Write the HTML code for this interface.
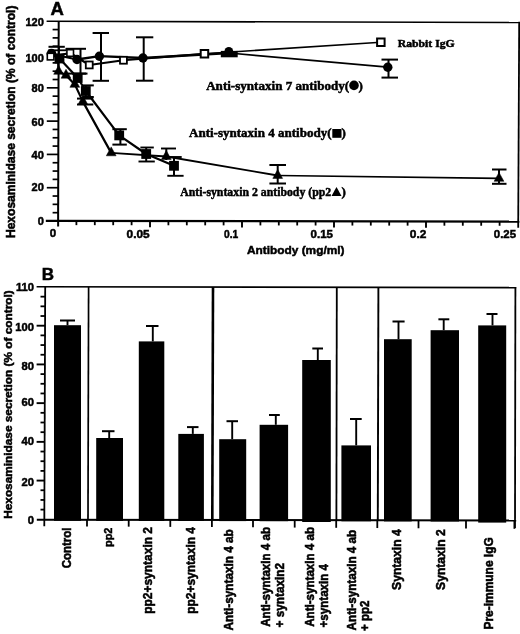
<!DOCTYPE html>
<html><head><meta charset="utf-8"><title>Figure</title>
<style>
html,body{margin:0;padding:0;background:#fff;}
body{width:520px;height:634px;overflow:hidden;font-family:"Liberation Sans",sans-serif;}
svg{display:block;}
text{fill:#000;}
</style></head><body>
<svg width="520" height="634" viewBox="0 0 520 634" style="filter:grayscale(1) blur(0.35px)">
<rect x="0" y="0" width="520" height="634" fill="#fff"/>
<line x1="46.60" y1="21.30" x2="519.60" y2="22.50" stroke="#000" stroke-width="1.6" />
<line x1="519.20" y1="21.80" x2="518.20" y2="227.80" stroke="#000" stroke-width="1.8" />
<line x1="45.80" y1="220.90" x2="519.40" y2="221.60" stroke="#000" stroke-width="2.2" />
<line x1="58.70" y1="21.50" x2="58.10" y2="226.60" stroke="#000" stroke-width="2.0" />
<line x1="52.60" y1="212.68" x2="58.70" y2="212.68" stroke="#000" stroke-width="1.7" />
<line x1="52.60" y1="204.35" x2="58.70" y2="204.35" stroke="#000" stroke-width="1.7" />
<line x1="52.60" y1="196.03" x2="58.70" y2="196.03" stroke="#000" stroke-width="1.7" />
<line x1="46.80" y1="187.71" x2="58.70" y2="187.71" stroke="#000" stroke-width="1.7" />
<line x1="52.60" y1="179.38" x2="58.70" y2="179.38" stroke="#000" stroke-width="1.7" />
<line x1="52.60" y1="171.06" x2="58.70" y2="171.06" stroke="#000" stroke-width="1.7" />
<line x1="52.60" y1="162.74" x2="58.70" y2="162.74" stroke="#000" stroke-width="1.7" />
<line x1="46.80" y1="154.42" x2="58.70" y2="154.42" stroke="#000" stroke-width="1.7" />
<line x1="52.60" y1="146.09" x2="58.70" y2="146.09" stroke="#000" stroke-width="1.7" />
<line x1="52.60" y1="137.77" x2="58.70" y2="137.77" stroke="#000" stroke-width="1.7" />
<line x1="52.60" y1="129.45" x2="58.70" y2="129.45" stroke="#000" stroke-width="1.7" />
<line x1="46.80" y1="121.12" x2="58.70" y2="121.12" stroke="#000" stroke-width="1.7" />
<line x1="52.60" y1="112.80" x2="58.70" y2="112.80" stroke="#000" stroke-width="1.7" />
<line x1="52.60" y1="104.48" x2="58.70" y2="104.48" stroke="#000" stroke-width="1.7" />
<line x1="52.60" y1="96.16" x2="58.70" y2="96.16" stroke="#000" stroke-width="1.7" />
<line x1="46.80" y1="87.83" x2="58.70" y2="87.83" stroke="#000" stroke-width="1.7" />
<line x1="52.60" y1="79.51" x2="58.70" y2="79.51" stroke="#000" stroke-width="1.7" />
<line x1="52.60" y1="71.19" x2="58.70" y2="71.19" stroke="#000" stroke-width="1.7" />
<line x1="52.60" y1="62.86" x2="58.70" y2="62.86" stroke="#000" stroke-width="1.7" />
<line x1="46.80" y1="54.54" x2="58.70" y2="54.54" stroke="#000" stroke-width="1.7" />
<line x1="52.60" y1="46.22" x2="58.70" y2="46.22" stroke="#000" stroke-width="1.7" />
<line x1="52.60" y1="37.89" x2="58.70" y2="37.89" stroke="#000" stroke-width="1.7" />
<line x1="52.60" y1="29.57" x2="58.70" y2="29.57" stroke="#000" stroke-width="1.7" />
<line x1="76.40" y1="220.94" x2="76.40" y2="225.14" stroke="#000" stroke-width="1.8" />
<line x1="94.80" y1="220.97" x2="94.80" y2="225.17" stroke="#000" stroke-width="1.8" />
<line x1="113.20" y1="221.00" x2="113.20" y2="225.20" stroke="#000" stroke-width="1.8" />
<line x1="131.60" y1="221.03" x2="131.60" y2="225.23" stroke="#000" stroke-width="1.8" />
<line x1="150.00" y1="221.05" x2="150.00" y2="227.25" stroke="#000" stroke-width="1.9" />
<line x1="168.40" y1="221.08" x2="168.40" y2="225.28" stroke="#000" stroke-width="1.8" />
<line x1="186.80" y1="221.11" x2="186.80" y2="225.31" stroke="#000" stroke-width="1.8" />
<line x1="205.20" y1="221.14" x2="205.20" y2="225.34" stroke="#000" stroke-width="1.8" />
<line x1="223.60" y1="221.16" x2="223.60" y2="225.36" stroke="#000" stroke-width="1.8" />
<line x1="242.00" y1="221.19" x2="242.00" y2="227.39" stroke="#000" stroke-width="1.9" />
<line x1="260.40" y1="221.22" x2="260.40" y2="225.42" stroke="#000" stroke-width="1.8" />
<line x1="278.80" y1="221.24" x2="278.80" y2="225.44" stroke="#000" stroke-width="1.8" />
<line x1="297.20" y1="221.27" x2="297.20" y2="225.47" stroke="#000" stroke-width="1.8" />
<line x1="315.60" y1="221.30" x2="315.60" y2="225.50" stroke="#000" stroke-width="1.8" />
<line x1="334.00" y1="221.33" x2="334.00" y2="227.53" stroke="#000" stroke-width="1.9" />
<line x1="352.40" y1="221.35" x2="352.40" y2="225.55" stroke="#000" stroke-width="1.8" />
<line x1="370.80" y1="221.38" x2="370.80" y2="225.58" stroke="#000" stroke-width="1.8" />
<line x1="389.20" y1="221.41" x2="389.20" y2="225.61" stroke="#000" stroke-width="1.8" />
<line x1="407.60" y1="221.44" x2="407.60" y2="225.64" stroke="#000" stroke-width="1.8" />
<line x1="426.00" y1="221.46" x2="426.00" y2="227.66" stroke="#000" stroke-width="1.9" />
<line x1="444.40" y1="221.49" x2="444.40" y2="225.69" stroke="#000" stroke-width="1.8" />
<line x1="462.80" y1="221.52" x2="462.80" y2="225.72" stroke="#000" stroke-width="1.8" />
<line x1="481.20" y1="221.54" x2="481.20" y2="225.74" stroke="#000" stroke-width="1.8" />
<line x1="499.60" y1="221.57" x2="499.60" y2="225.77" stroke="#000" stroke-width="1.8" />
<text x="43.80" y="25.50" font-family="Liberation Sans" font-size="11" font-weight="bold" text-anchor="end"  stroke="#000" stroke-width="0.5">120</text>
<text x="43.80" y="61.60" font-family="Liberation Sans" font-size="11" font-weight="bold" text-anchor="end"  stroke="#000" stroke-width="0.5">100</text>
<text x="43.80" y="92.10" font-family="Liberation Sans" font-size="11" font-weight="bold" text-anchor="end"  stroke="#000" stroke-width="0.5">80</text>
<text x="43.80" y="125.50" font-family="Liberation Sans" font-size="11" font-weight="bold" text-anchor="end"  stroke="#000" stroke-width="0.5">60</text>
<text x="43.80" y="158.80" font-family="Liberation Sans" font-size="11" font-weight="bold" text-anchor="end"  stroke="#000" stroke-width="0.5">40</text>
<text x="43.80" y="191.30" font-family="Liberation Sans" font-size="11" font-weight="bold" text-anchor="end"  stroke="#000" stroke-width="0.5">20</text>
<text x="43.80" y="224.50" font-family="Liberation Sans" font-size="11" font-weight="bold" text-anchor="end"  stroke="#000" stroke-width="0.5">0</text>
<text x="49.80" y="237.40" font-family="Liberation Sans" font-size="11.5" font-weight="bold" text-anchor="start"  stroke="#000" stroke-width="0.5">0</text>
<text x="126.60" y="237.60" font-family="Liberation Sans" font-size="11.5" font-weight="bold" text-anchor="start" textLength="23.0" lengthAdjust="spacingAndGlyphs"  stroke="#000" stroke-width="0.5">0.05</text>
<text x="224.10" y="237.80" font-family="Liberation Sans" font-size="11.5" font-weight="bold" text-anchor="start" textLength="14.2" lengthAdjust="spacingAndGlyphs"  stroke="#000" stroke-width="0.5">0.1</text>
<text x="310.60" y="237.60" font-family="Liberation Sans" font-size="11.5" font-weight="bold" text-anchor="start" textLength="22.4" lengthAdjust="spacingAndGlyphs"  stroke="#000" stroke-width="0.5">0.15</text>
<text x="409.80" y="238.10" font-family="Liberation Sans" font-size="11.5" font-weight="bold" text-anchor="start" textLength="16.6" lengthAdjust="spacingAndGlyphs"  stroke="#000" stroke-width="0.5">0.2</text>
<text x="493.80" y="238.40" font-family="Liberation Sans" font-size="11.5" font-weight="bold" text-anchor="start" textLength="22.2" lengthAdjust="spacingAndGlyphs"  stroke="#000" stroke-width="0.5">0.25</text>
<text x="247.00" y="254.30" font-family="Liberation Sans" font-size="11.5" font-weight="bold" text-anchor="start" textLength="97.5" lengthAdjust="spacingAndGlyphs"  stroke="#000" stroke-width="0.5">Antibody (mg/ml)</text>
<text x="50.60" y="14.70" font-family="Liberation Sans" font-size="18.5" font-weight="bold" text-anchor="start"  stroke="#000" stroke-width="0.5">A</text>
<text x="0" y="0" transform="translate(15.20,238.00) rotate(-90) scale(1,1.08)" font-family="Liberation Sans" font-size="12" font-weight="bold" text-anchor="start" textLength="232.4" lengthAdjust="spacingAndGlyphs"  stroke="#000" stroke-width="0.5">Hexosaminidase secretion (% of control)</text>
<polyline fill="none" stroke="#000" stroke-width="2.1" stroke-linejoin="round" points="50.6,56.6 70.2,53.0 89.3,65.0 123.4,60.2 204.4,53.7"/>
<polyline fill="none" stroke="#000" stroke-width="1.6" stroke-linejoin="round" points="204.4,53.7 380.8,42.3"/>
<polyline fill="none" stroke="#000" stroke-width="2.3" stroke-linejoin="round" points="56.0,55.0 77.0,59.5 99.4,56.2 143.0,58.0 229.2,53.0"/>
<polyline fill="none" stroke="#000" stroke-width="1.7" stroke-linejoin="round" points="229.2,53.0 387.8,67.2"/>
<polyline fill="none" stroke="#000" stroke-width="2.2" stroke-linejoin="round" points="59.5,58.5 77.7,78.0 85.8,91.0 119.2,135.4 146.2,154.0 174.0,165.8"/>
<polyline fill="none" stroke="#000" stroke-width="2.2" stroke-linejoin="round" points="58.0,58.0 58.6,71.4 66.0,75.3 74.8,84.4 82.9,101.6 111.2,152.9"/>
<polyline fill="none" stroke="#000" stroke-width="1.9" stroke-linejoin="round" points="111.2,152.9 166.3,156.5 277.7,175.5"/>
<polyline fill="none" stroke="#000" stroke-width="1.7" stroke-linejoin="round" points="277.7,175.5 499.0,178.4"/>
<line x1="48.50" y1="46.80" x2="64.80" y2="46.80" stroke="#000" stroke-width="2.0" />
<line x1="48.20" y1="50.30" x2="66.40" y2="50.30" stroke="#000" stroke-width="1.8" />
<line x1="58.90" y1="46.80" x2="58.90" y2="56.00" stroke="#000" stroke-width="1.9" />
<line x1="80.50" y1="48.80" x2="80.50" y2="73.60" stroke="#000" stroke-width="2.0" />
<line x1="65.50" y1="48.80" x2="86.00" y2="48.80" stroke="#000" stroke-width="2.0" />
<line x1="65.50" y1="73.60" x2="86.00" y2="73.60" stroke="#000" stroke-width="2.0" />
<line x1="72.00" y1="73.60" x2="87.50" y2="73.60" stroke="#000" stroke-width="2.0" />
<line x1="101.00" y1="33.00" x2="101.00" y2="80.80" stroke="#000" stroke-width="2.0" />
<line x1="92.60" y1="33.00" x2="109.00" y2="33.00" stroke="#000" stroke-width="2.0" />
<line x1="92.60" y1="80.80" x2="109.00" y2="80.80" stroke="#000" stroke-width="2.0" />
<line x1="143.70" y1="37.30" x2="143.70" y2="80.70" stroke="#000" stroke-width="2.0" />
<line x1="136.00" y1="37.30" x2="153.30" y2="37.30" stroke="#000" stroke-width="2.0" />
<line x1="136.00" y1="80.70" x2="153.30" y2="80.70" stroke="#000" stroke-width="2.0" />
<rect x="220.8" y="50.9" width="16.9" height="6.4" fill="#000"/>
<line x1="388.50" y1="59.60" x2="388.50" y2="77.60" stroke="#000" stroke-width="2.0" />
<line x1="381.50" y1="59.60" x2="398.00" y2="59.60" stroke="#000" stroke-width="2.0" />
<line x1="381.50" y1="77.60" x2="398.00" y2="77.60" stroke="#000" stroke-width="2.0" />
<line x1="85.80" y1="85.40" x2="85.80" y2="97.00" stroke="#000" stroke-width="2.0" />
<line x1="82.30" y1="85.40" x2="93.80" y2="85.40" stroke="#000" stroke-width="2.0" />
<line x1="82.30" y1="97.00" x2="93.80" y2="97.00" stroke="#000" stroke-width="2.0" />
<line x1="120.40" y1="129.20" x2="120.40" y2="144.60" stroke="#000" stroke-width="2.0" />
<line x1="112.40" y1="129.20" x2="126.80" y2="129.20" stroke="#000" stroke-width="2.0" />
<line x1="112.40" y1="144.60" x2="126.80" y2="144.60" stroke="#000" stroke-width="2.0" />
<line x1="146.20" y1="147.50" x2="146.20" y2="161.50" stroke="#000" stroke-width="2.0" />
<line x1="140.40" y1="147.50" x2="153.80" y2="147.50" stroke="#000" stroke-width="1.9" />
<line x1="138.50" y1="161.50" x2="154.80" y2="161.50" stroke="#000" stroke-width="1.9" />
<line x1="174.00" y1="157.00" x2="174.00" y2="175.80" stroke="#000" stroke-width="2.0" />
<line x1="166.00" y1="157.00" x2="181.70" y2="157.00" stroke="#000" stroke-width="1.9" />
<line x1="167.30" y1="175.80" x2="183.60" y2="175.80" stroke="#000" stroke-width="1.9" />
<line x1="82.90" y1="98.60" x2="82.90" y2="104.50" stroke="#000" stroke-width="2.0" />
<line x1="77.00" y1="98.60" x2="93.30" y2="98.60" stroke="#000" stroke-width="2.0" />
<line x1="77.00" y1="104.50" x2="93.30" y2="104.50" stroke="#000" stroke-width="2.0" />
<line x1="166.30" y1="148.50" x2="166.30" y2="160.00" stroke="#000" stroke-width="2.0" />
<line x1="161.00" y1="148.50" x2="176.00" y2="148.50" stroke="#000" stroke-width="1.9" />
<line x1="277.70" y1="165.00" x2="277.70" y2="183.50" stroke="#000" stroke-width="2.0" />
<line x1="269.40" y1="165.00" x2="286.00" y2="165.00" stroke="#000" stroke-width="2.0" />
<line x1="269.40" y1="183.50" x2="286.00" y2="183.50" stroke="#000" stroke-width="2.0" />
<line x1="499.00" y1="169.50" x2="499.00" y2="183.80" stroke="#000" stroke-width="2.0" />
<line x1="492.00" y1="169.50" x2="506.50" y2="169.50" stroke="#000" stroke-width="2.0" />
<line x1="492.00" y1="183.80" x2="506.50" y2="183.80" stroke="#000" stroke-width="2.0" />
<circle cx="51.5" cy="53.6" r="4.8" fill="#000"/>
<circle cx="77" cy="59.5" r="4.7" fill="#000"/>
<circle cx="99.4" cy="56.2" r="4.7" fill="#000"/>
<circle cx="143" cy="58.0" r="4.7" fill="#000"/>
<circle cx="228.8" cy="51.4" r="4.4" fill="#000"/>
<circle cx="387.8" cy="67.2" r="4.7" fill="#000"/>
<polygon points="53.7,74.3 63.5,74.3 58.6,65.4" fill="#000" stroke="#000" stroke-width="0.5" stroke-linejoin="round"/>
<polygon points="61.1,78.2 70.9,78.2 66.0,69.3" fill="#000" stroke="#000" stroke-width="0.5" stroke-linejoin="round"/>
<polygon points="69.9,87.3 79.7,87.3 74.8,78.4" fill="#000" stroke="#000" stroke-width="0.5" stroke-linejoin="round"/>
<polygon points="78.0,104.5 87.8,104.5 82.9,95.6" fill="#000" stroke="#000" stroke-width="0.5" stroke-linejoin="round"/>
<polygon points="106.3,155.8 116.1,155.8 111.2,146.9" fill="#000" stroke="#000" stroke-width="0.5" stroke-linejoin="round"/>
<polygon points="161.4,159.4 171.2,159.4 166.3,150.5" fill="#000" stroke="#000" stroke-width="0.5" stroke-linejoin="round"/>
<polygon points="272.8,178.4 282.6,178.4 277.7,169.5" fill="#000" stroke="#000" stroke-width="0.5" stroke-linejoin="round"/>
<polygon points="494.1,181.3 503.9,181.3 499.0,172.4" fill="#000" stroke="#000" stroke-width="0.5" stroke-linejoin="round"/>
<rect x="54.6" y="53.6" width="9.8" height="9.8" fill="#000"/>
<rect x="72.8" y="73.1" width="9.8" height="9.8" fill="#000"/>
<rect x="80.9" y="86.1" width="9.8" height="9.8" fill="#000"/>
<rect x="114.3" y="130.5" width="9.8" height="9.8" fill="#000"/>
<rect x="141.3" y="149.1" width="9.8" height="9.8" fill="#000"/>
<rect x="169.1" y="160.9" width="9.8" height="9.8" fill="#000"/>
<rect x="47.3" y="53.3" width="6.6" height="6.6" fill="#fff" stroke="#000" stroke-width="1.6"/>
<rect x="66.9" y="49.7" width="6.6" height="6.6" fill="#fff" stroke="#000" stroke-width="1.6"/>
<rect x="85.8" y="61.5" width="6.9" height="6.9" fill="#fff" stroke="#000" stroke-width="1.8"/>
<rect x="120.0" y="56.8" width="6.9" height="6.9" fill="#fff" stroke="#000" stroke-width="1.8"/>
<rect x="200.7" y="50.0" width="7.5" height="7.5" fill="#fff" stroke="#000" stroke-width="2.0"/>
<rect x="377.1" y="38.5" width="7.5" height="7.5" fill="#fff" stroke="#000" stroke-width="2.0"/>
<text x="397.70" y="46.50" font-family="Liberation Serif" font-size="11.4" font-weight="bold" text-anchor="start" textLength="57.0" lengthAdjust="spacingAndGlyphs"  stroke="#000" stroke-width="0.5">Rabbit IgG</text>
<text x="206.20" y="89.50" font-family="Liberation Serif" font-size="13" font-weight="bold" text-anchor="start" textLength="143.0" lengthAdjust="spacingAndGlyphs"  stroke="#000" stroke-width="0.5">Anti-syntaxin 7 antibody(</text>
<circle cx="354" cy="85.4" r="4.8" fill="#000"/>
<text x="358.60" y="89.50" font-family="Liberation Serif" font-size="13" font-weight="bold" text-anchor="start"  stroke="#000" stroke-width="0.5">)</text>
<text x="189.00" y="137.00" font-family="Liberation Serif" font-size="13" font-weight="bold" text-anchor="start" textLength="142.5" lengthAdjust="spacingAndGlyphs"  stroke="#000" stroke-width="0.5">Anti-syntaxin 4 antibody(</text>
<rect x="332.3" y="129" width="9.2" height="8.8" fill="#000"/>
<text x="341.60" y="137.00" font-family="Liberation Serif" font-size="13" font-weight="bold" text-anchor="start"  stroke="#000" stroke-width="0.5">)</text>
<text x="180.20" y="196.20" font-family="Liberation Serif" font-size="13" font-weight="bold" text-anchor="start" textLength="151.0" lengthAdjust="spacingAndGlyphs"  stroke="#000" stroke-width="0.5">Anti-syntaxin 2 antibody (pp2</text>
<polygon points="331.5,196 341.5,196 336.5,187" fill="#000"/>
<text x="341.60" y="196.20" font-family="Liberation Serif" font-size="13" font-weight="bold" text-anchor="start"  stroke="#000" stroke-width="0.5">)</text>
<line x1="36.60" y1="286.80" x2="516.20" y2="287.60" stroke="#000" stroke-width="1.6" />
<line x1="515.40" y1="287.00" x2="515.00" y2="528.00" stroke="#000" stroke-width="1.8" />
<line x1="36.80" y1="519.70" x2="516.20" y2="520.50" stroke="#000" stroke-width="2.1" />
<line x1="45.20" y1="287.00" x2="44.30" y2="526.30" stroke="#000" stroke-width="1.8" />
<line x1="40.50" y1="509.62" x2="44.34" y2="509.62" stroke="#000" stroke-width="1.8" />
<line x1="40.50" y1="499.94" x2="44.38" y2="499.94" stroke="#000" stroke-width="1.8" />
<line x1="40.50" y1="490.26" x2="44.41" y2="490.26" stroke="#000" stroke-width="1.8" />
<line x1="36.60" y1="480.58" x2="44.45" y2="480.58" stroke="#000" stroke-width="1.9" />
<line x1="40.50" y1="470.90" x2="44.49" y2="470.90" stroke="#000" stroke-width="1.8" />
<line x1="40.50" y1="461.22" x2="44.52" y2="461.22" stroke="#000" stroke-width="1.8" />
<line x1="40.50" y1="451.54" x2="44.56" y2="451.54" stroke="#000" stroke-width="1.8" />
<line x1="36.60" y1="441.86" x2="44.60" y2="441.86" stroke="#000" stroke-width="1.9" />
<line x1="40.50" y1="432.18" x2="44.64" y2="432.18" stroke="#000" stroke-width="1.8" />
<line x1="40.50" y1="422.50" x2="44.67" y2="422.50" stroke="#000" stroke-width="1.8" />
<line x1="40.50" y1="412.82" x2="44.71" y2="412.82" stroke="#000" stroke-width="1.8" />
<line x1="36.60" y1="403.14" x2="44.75" y2="403.14" stroke="#000" stroke-width="1.9" />
<line x1="40.50" y1="393.46" x2="44.79" y2="393.46" stroke="#000" stroke-width="1.8" />
<line x1="40.50" y1="383.78" x2="44.83" y2="383.78" stroke="#000" stroke-width="1.8" />
<line x1="40.50" y1="374.10" x2="44.86" y2="374.10" stroke="#000" stroke-width="1.8" />
<line x1="36.60" y1="364.42" x2="44.90" y2="364.42" stroke="#000" stroke-width="1.9" />
<line x1="40.50" y1="354.74" x2="44.94" y2="354.74" stroke="#000" stroke-width="1.8" />
<line x1="40.50" y1="345.06" x2="44.98" y2="345.06" stroke="#000" stroke-width="1.8" />
<line x1="40.50" y1="335.38" x2="45.01" y2="335.38" stroke="#000" stroke-width="1.8" />
<line x1="36.60" y1="325.70" x2="45.05" y2="325.70" stroke="#000" stroke-width="1.9" />
<line x1="40.50" y1="316.02" x2="45.09" y2="316.02" stroke="#000" stroke-width="1.8" />
<line x1="40.50" y1="306.34" x2="45.12" y2="306.34" stroke="#000" stroke-width="1.8" />
<line x1="40.50" y1="296.66" x2="45.16" y2="296.66" stroke="#000" stroke-width="1.8" />
<text x="34.00" y="290.60" font-family="Liberation Sans" font-size="11.2" font-weight="bold" text-anchor="end"  stroke="#000" stroke-width="0.5">110</text>
<text x="34.00" y="330.70" font-family="Liberation Sans" font-size="11.2" font-weight="bold" text-anchor="end"  stroke="#000" stroke-width="0.5">100</text>
<text x="34.00" y="369.80" font-family="Liberation Sans" font-size="11.2" font-weight="bold" text-anchor="end"  stroke="#000" stroke-width="0.5">80</text>
<text x="34.00" y="405.70" font-family="Liberation Sans" font-size="11.2" font-weight="bold" text-anchor="end"  stroke="#000" stroke-width="0.5">60</text>
<text x="34.00" y="445.00" font-family="Liberation Sans" font-size="11.2" font-weight="bold" text-anchor="end"  stroke="#000" stroke-width="0.5">40</text>
<text x="34.00" y="486.30" font-family="Liberation Sans" font-size="11.2" font-weight="bold" text-anchor="end"  stroke="#000" stroke-width="0.5">20</text>
<text x="34.00" y="524.20" font-family="Liberation Sans" font-size="11.2" font-weight="bold" text-anchor="end"  stroke="#000" stroke-width="0.5">0</text>
<text x="41.80" y="280.30" font-family="Liberation Sans" font-size="17" font-weight="bold" text-anchor="start"  stroke="#000" stroke-width="0.5">B</text>
<text x="0" y="0" transform="translate(12.30,518.80) rotate(-90) scale(1,1.0)" font-family="Liberation Sans" font-size="11.8" font-weight="bold" text-anchor="start" textLength="228.5" lengthAdjust="spacingAndGlyphs"  stroke="#000" stroke-width="0.5">Hexosaminidase secretion (% of control)</text>
<line x1="87.00" y1="519.77" x2="87.00" y2="526.43" stroke="#000" stroke-width="1.8" />
<line x1="128.70" y1="519.84" x2="128.70" y2="526.66" stroke="#000" stroke-width="1.8" />
<line x1="170.30" y1="519.91" x2="170.30" y2="526.89" stroke="#000" stroke-width="1.8" />
<line x1="211.90" y1="519.98" x2="211.90" y2="527.12" stroke="#000" stroke-width="1.8" />
<line x1="253.00" y1="520.05" x2="253.00" y2="527.35" stroke="#000" stroke-width="1.8" />
<line x1="294.70" y1="520.13" x2="294.70" y2="527.58" stroke="#000" stroke-width="1.8" />
<line x1="336.20" y1="520.20" x2="336.20" y2="527.81" stroke="#000" stroke-width="1.8" />
<line x1="377.30" y1="520.27" x2="377.30" y2="528.04" stroke="#000" stroke-width="1.8" />
<line x1="418.50" y1="520.34" x2="418.50" y2="528.27" stroke="#000" stroke-width="1.8" />
<line x1="466.00" y1="520.42" x2="466.00" y2="528.53" stroke="#000" stroke-width="1.8" />
<line x1="514.40" y1="520.50" x2="514.40" y2="528.80" stroke="#000" stroke-width="1.8" />
<line x1="88.60" y1="287.00" x2="88.00" y2="520.00" stroke="#000" stroke-width="1.7" />
<line x1="213.00" y1="287.00" x2="212.30" y2="520.00" stroke="#000" stroke-width="2.6" />
<line x1="336.80" y1="287.00" x2="336.40" y2="520.00" stroke="#000" stroke-width="1.8" />
<line x1="378.40" y1="287.00" x2="377.80" y2="520.00" stroke="#000" stroke-width="1.9" />
<rect x="54" y="325.2" width="27.0" height="195.6" fill="#000"/>
<line x1="67.50" y1="320.50" x2="67.50" y2="325.20" stroke="#000" stroke-width="1.9" />
<line x1="60.00" y1="320.50" x2="75.00" y2="320.50" stroke="#000" stroke-width="2.0" />
<rect x="96.2" y="438" width="26.8" height="82.9" fill="#000"/>
<line x1="109.20" y1="431.20" x2="109.20" y2="438.00" stroke="#000" stroke-width="1.9" />
<line x1="102.00" y1="431.20" x2="114.50" y2="431.20" stroke="#000" stroke-width="2.0" />
<rect x="138.8" y="341.4" width="25.5" height="179.6" fill="#000"/>
<line x1="152.80" y1="326.00" x2="152.80" y2="341.40" stroke="#000" stroke-width="1.9" />
<line x1="146.00" y1="326.00" x2="158.50" y2="326.00" stroke="#000" stroke-width="2.0" />
<rect x="178.3" y="433.9" width="25.6" height="87.1" fill="#000"/>
<line x1="192.80" y1="427.10" x2="192.80" y2="433.90" stroke="#000" stroke-width="1.9" />
<line x1="187.00" y1="427.10" x2="198.50" y2="427.10" stroke="#000" stroke-width="2.0" />
<rect x="219.2" y="439.2" width="27.0" height="81.9" fill="#000"/>
<line x1="232.20" y1="421.20" x2="232.20" y2="439.20" stroke="#000" stroke-width="1.9" />
<line x1="226.50" y1="421.20" x2="238.00" y2="421.20" stroke="#000" stroke-width="2.0" />
<rect x="259.6" y="424.8" width="28.5" height="96.4" fill="#000"/>
<line x1="275.80" y1="415.00" x2="275.80" y2="424.80" stroke="#000" stroke-width="1.9" />
<line x1="269.00" y1="415.00" x2="279.80" y2="415.00" stroke="#000" stroke-width="2.0" />
<rect x="302.2" y="360" width="28.6" height="162.0" fill="#000"/>
<line x1="317.80" y1="348.50" x2="317.80" y2="360.00" stroke="#000" stroke-width="1.9" />
<line x1="312.30" y1="348.50" x2="323.00" y2="348.50" stroke="#000" stroke-width="2.0" />
<rect x="341.4" y="445.4" width="29.6" height="75.9" fill="#000"/>
<line x1="356.20" y1="419.00" x2="356.20" y2="445.40" stroke="#000" stroke-width="1.9" />
<line x1="350.00" y1="419.00" x2="361.70" y2="419.00" stroke="#000" stroke-width="2.0" />
<rect x="384" y="339.2" width="27.7" height="182.2" fill="#000"/>
<line x1="398.50" y1="321.50" x2="398.50" y2="339.20" stroke="#000" stroke-width="1.9" />
<line x1="392.50" y1="321.50" x2="404.60" y2="321.50" stroke="#000" stroke-width="2.0" />
<rect x="430.6" y="330.2" width="28.4" height="191.3" fill="#000"/>
<line x1="443.70" y1="319.30" x2="443.70" y2="330.20" stroke="#000" stroke-width="1.9" />
<line x1="438.40" y1="319.30" x2="449.30" y2="319.30" stroke="#000" stroke-width="2.0" />
<rect x="478.2" y="325.4" width="28.0" height="197.2" fill="#000"/>
<line x1="492.50" y1="314.00" x2="492.50" y2="325.40" stroke="#000" stroke-width="1.9" />
<line x1="486.50" y1="314.00" x2="497.50" y2="314.00" stroke="#000" stroke-width="2.0" />
<text x="0" y="0" transform="translate(70.70,527.50) rotate(-90) scale(1,1.08)" font-family="Liberation Sans" font-size="11.8" font-weight="bold" text-anchor="end" textLength="40.8" lengthAdjust="spacingAndGlyphs"  stroke="#000" stroke-width="0.5">Control</text>
<text x="0" y="0" transform="translate(112.40,527.60) rotate(-90) scale(1,0.95)" font-family="Liberation Sans" font-size="11.8" font-weight="bold" text-anchor="end" textLength="19.4" lengthAdjust="spacingAndGlyphs"  stroke="#000" stroke-width="0.5">pp2</text>
<text x="0" y="0" transform="translate(152.00,527.00) rotate(-90) scale(1,1.02)" font-family="Liberation Sans" font-size="11.8" font-weight="bold" text-anchor="end" textLength="86.8" lengthAdjust="spacingAndGlyphs"  stroke="#000" stroke-width="0.5">pp2+syntaxin 2</text>
<text x="0" y="0" transform="translate(194.60,527.00) rotate(-90) scale(1,1.02)" font-family="Liberation Sans" font-size="11.8" font-weight="bold" text-anchor="end" textLength="86.8" lengthAdjust="spacingAndGlyphs"  stroke="#000" stroke-width="0.5">pp2+syntaxin 4</text>
<text x="0" y="0" transform="translate(233.20,630.60) rotate(-90) scale(1,1.14)" font-family="Liberation Sans" font-size="11.8" font-weight="bold" text-anchor="start" textLength="101.4" lengthAdjust="spacingAndGlyphs"  stroke="#000" stroke-width="0.5">Anti-syntaxin 4 ab</text>
<text x="0" y="0" transform="translate(269.90,626.80) rotate(-90) scale(1,1.14)" font-family="Liberation Sans" font-size="11.8" font-weight="bold" text-anchor="start" textLength="99.8" lengthAdjust="spacingAndGlyphs"  stroke="#000" stroke-width="0.5">Anti-syntaxin 4 ab</text>
<text x="0" y="0" transform="translate(283.90,627.40) rotate(-90) scale(1,1.14)" font-family="Liberation Sans" font-size="11.8" font-weight="bold" text-anchor="start" textLength="64.4" lengthAdjust="spacingAndGlyphs"  stroke="#000" stroke-width="0.5">+ syntaxin2</text>
<text x="0" y="0" transform="translate(313.70,626.80) rotate(-90) scale(1,1.14)" font-family="Liberation Sans" font-size="11.8" font-weight="bold" text-anchor="start" textLength="99.8" lengthAdjust="spacingAndGlyphs"  stroke="#000" stroke-width="0.5">Anti-syntaxin 4 ab</text>
<text x="0" y="0" transform="translate(328.00,627.40) rotate(-90) scale(1,1.14)" font-family="Liberation Sans" font-size="11.8" font-weight="bold" text-anchor="start" textLength="63.4" lengthAdjust="spacingAndGlyphs"  stroke="#000" stroke-width="0.5">+syntaxin 4</text>
<text x="0" y="0" transform="translate(356.00,630.40) rotate(-90) scale(1,1.14)" font-family="Liberation Sans" font-size="11.8" font-weight="bold" text-anchor="start" textLength="100.6" lengthAdjust="spacingAndGlyphs"  stroke="#000" stroke-width="0.5">Anti-syntaxin 4 ab</text>
<text x="0" y="0" transform="translate(368.90,631.00) rotate(-90) scale(1,1.14)" font-family="Liberation Sans" font-size="11.8" font-weight="bold" text-anchor="start" textLength="30.3" lengthAdjust="spacingAndGlyphs"  stroke="#000" stroke-width="0.5">+ pp2</text>
<text x="0" y="0" transform="translate(401.00,529.30) rotate(-90) scale(1,1.1)" font-family="Liberation Sans" font-size="11.8" font-weight="bold" text-anchor="end" textLength="60.6" lengthAdjust="spacingAndGlyphs"  stroke="#000" stroke-width="0.5">Syntaxin 4</text>
<text x="0" y="0" transform="translate(445.30,529.30) rotate(-90) scale(1,1.1)" font-family="Liberation Sans" font-size="11.8" font-weight="bold" text-anchor="end" textLength="60.6" lengthAdjust="spacingAndGlyphs"  stroke="#000" stroke-width="0.5">Syntaxin 2</text>
<text x="0" y="0" transform="translate(493.00,537.20) rotate(-90) scale(1,1.08)" font-family="Liberation Sans" font-size="11.8" font-weight="bold" text-anchor="end" textLength="92.3" lengthAdjust="spacingAndGlyphs"  stroke="#000" stroke-width="0.5">Pre-immune IgG</text>
</svg>
</body></html>
